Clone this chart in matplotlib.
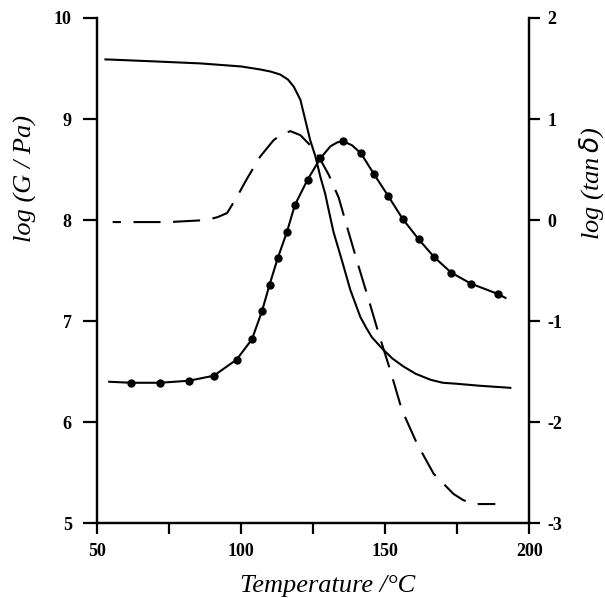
import matplotlib
matplotlib.use('Agg')
import matplotlib.pyplot as plt
from matplotlib.ticker import MultipleLocator

# Storage modulus, log(G'/Pa), solid line
t_g1 = [53, 70, 86, 100, 106.7, 110.2, 113.6, 116.3, 118.3, 120.6, 122.3, 124.0, 125.8,
        127.5, 129.2, 130.4, 132.1, 135.0, 137.9, 141.4, 143.5, 145.4, 148.9, 152.5,
        156.4, 160.5, 165.7, 170.0, 174.9, 183.0, 193.4]
g1 = [9.59, 9.57, 9.55, 9.52, 9.49, 9.47, 9.44, 9.39, 9.32, 9.19, 8.99, 8.79, 8.63,
      8.43, 8.26, 8.10, 7.88, 7.60, 7.31, 7.04, 6.93, 6.84, 6.73, 6.63,
      6.55, 6.48, 6.42, 6.39, 6.38, 6.36, 6.34]

# Loss modulus, log(G''/Pa), dashed line
t_g2 = [55.5, 75, 88, 92, 95.2, 98.6, 102.1, 106.7, 109.0, 111.3, 113.6, 117.1, 120.6,
        124.0, 126.9, 130.4, 133.9, 136.8, 140.8, 144.3, 147.7, 151.8, 155.8, 161.0,
        166.8, 173.7, 177.0, 180.7, 188.2]
g2 = [7.98, 7.98, 8.00, 8.03, 8.07, 8.23, 8.41, 8.63, 8.71, 8.79, 8.84, 8.88, 8.84,
      8.74, 8.63, 8.45, 8.22, 7.93, 7.54, 7.21, 6.88, 6.51, 6.12, 5.79,
      5.49, 5.29, 5.23, 5.19, 5.19]

# log(tan delta), line with measured points
t_tan_line = [54.3, 62.0, 71.8, 81.9, 90.6, 98.5, 103.8, 107.3, 109.9, 112.7, 115.9,
              118.7, 123.1, 127.5, 131.0, 133.5, 135.4, 138.5, 141.6, 146.0, 151.0,
              156.1, 161.6, 167.1, 172.9, 179.8, 189.0, 191.7]
tan_line = [-1.60, -1.61, -1.61, -1.59, -1.54, -1.38, -1.18, -0.90, -0.64, -0.38, -0.12,
            0.15, 0.40, 0.61, 0.73, 0.77, 0.78, 0.74, 0.66, 0.46, 0.24,
            0.01, -0.19, -0.37, -0.52, -0.63, -0.73, -0.77]
t_tan_pts = [62.0, 71.8, 81.9, 90.6, 98.5, 103.8, 107.3, 109.9, 112.7, 115.9, 118.7,
             123.1, 127.5, 135.4, 141.6, 146.0, 151.0, 156.1, 161.6, 167.1, 172.9,
             179.8, 189.0]
tan_pts = [-1.61, -1.61, -1.59, -1.54, -1.38, -1.18, -0.90, -0.64, -0.38, -0.12, 0.15,
           0.40, 0.61, 0.78, 0.66, 0.46, 0.24, 0.01, -0.19, -0.37, -0.52,
           -0.63, -0.73]

plt.rcParams['font.family'] = 'Liberation Serif'
plt.rcParams['axes.unicode_minus'] = False

fig = plt.figure(figsize=(6.05, 5.98), dpi=100)
ax = fig.add_axes([0.16, 0.125, 0.715, 0.845])
ax2 = ax.twinx()

ax.plot(t_g1, g1, color='black', lw=1.5)
ax.plot(t_g2, g2, color='black', lw=1.5, linestyle=(9, (13, 6)), dash_capstyle='butt')
ax2.plot(t_tan_line, tan_line, color='black', lw=1.5)
ax2.plot(t_tan_pts, tan_pts, 'o', color='black', ms=5)

ax.set_xlim(50, 200)
ax.set_ylim(5, 10)
ax2.set_ylim(-3, 2)

ax.xaxis.set_major_locator(MultipleLocator(50))
ax.xaxis.set_minor_locator(MultipleLocator(25))
ax.yaxis.set_major_locator(MultipleLocator(1))
ax2.yaxis.set_major_locator(MultipleLocator(1))

for a in (ax, ax2):
    a.spines['top'].set_visible(False)
    for s in ('left', 'right', 'bottom'):
        a.spines[s].set_linewidth(1.6)
    a.tick_params(axis='x', which='both', direction='out', length=8, width=1.6,
                  labelsize=13, pad=6)
ax.tick_params(axis='y', which='major', direction='out', length=10, width=1.6,
               labelsize=13, pad=8)
ax2.tick_params(axis='y', which='major', direction='out', length=8, width=1.6,
                labelsize=13, pad=5)
for a in (ax, ax2):
    for lab in a.get_xticklabels() + a.get_yticklabels():
        lab.set_fontweight('bold')

ax.set_xlabel('Temperature /°C', fontsize=19, style='italic')
ax.set_ylabel('log (G / Pa)', fontsize=19, style='italic')
ax2.set_ylabel(r'log (tan$\,\mathit{\delta}$)', fontsize=19, style='italic', rotation=90)
ax.xaxis.set_label_coords(0.533, -0.102)
ax.yaxis.set_label_coords(-0.138, 0.683)
ax2.yaxis.set_label_coords(1.11, 0.673)

fig.savefig('out.png', dpi=100)
